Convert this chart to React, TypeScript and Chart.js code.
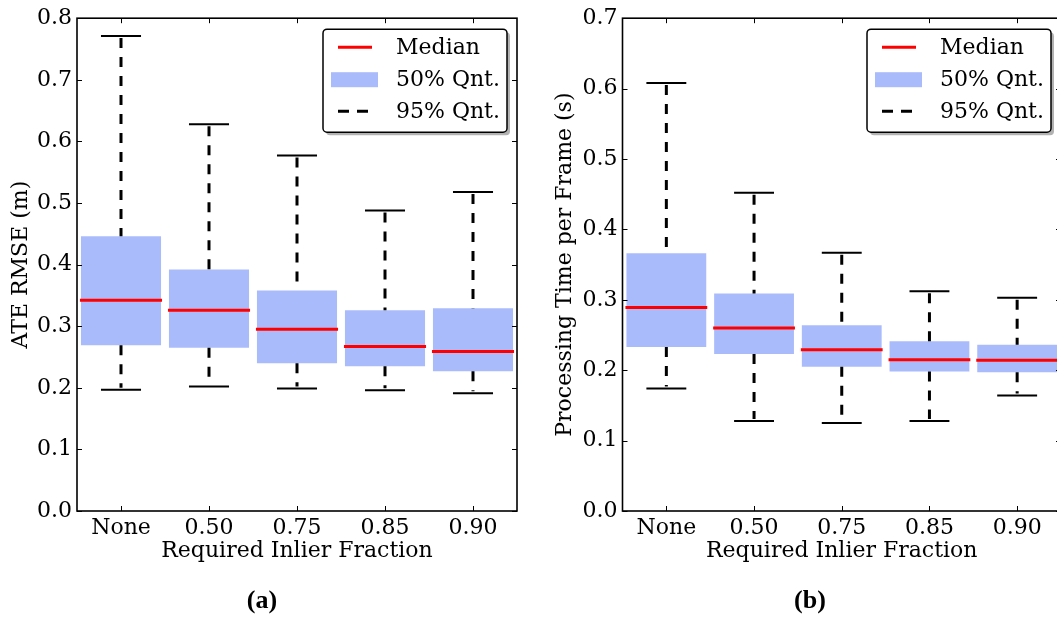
import { useEffect, useRef } from 'react';
import { Chart, registerables } from 'chart.js';

Chart.register(...registerables);

// Category labels (required inlier fraction)
const categories = ['None', '0.50', '0.75', '0.85', '0.90'];

// (a) ATE RMSE in metres: 95% range, 50% range and median
const ateLow = [0.197, 0.202, 0.199, 0.196, 0.191];
const ateQ1 = [0.269, 0.265, 0.24, 0.235, 0.227];
const ateMedian = [0.342, 0.326, 0.295, 0.267, 0.259];
const ateQ3 = [0.446, 0.392, 0.358, 0.326, 0.329];
const ateHigh = [0.771, 0.628, 0.577, 0.488, 0.518];

// (b) Processing time per frame in seconds
const timeLow = [0.174, 0.128, 0.125, 0.128, 0.164];
const timeQ1 = [0.233, 0.223, 0.205, 0.198, 0.197];
const timeMedian = [0.289, 0.26, 0.229, 0.215, 0.214];
const timeQ3 = [0.366, 0.309, 0.264, 0.241, 0.236];
const timeHigh = [0.608, 0.452, 0.367, 0.312, 0.303];

const legendLabels = ['Median', '50% Qnt.', '95% Qnt.'];

const FONT_FAMILY = '"DejaVu Serif", serif';
const FONT_SIZE = 22;
const BOX_COLOR = 'rgb(170, 187, 252)';
const MEDIAN_COLOR = '#ff0000';

type PanelSpec = {
  yTitle: string;
  yMax: number;
  low: number[];
  q1: number[];
  median: number[];
  q3: number[];
  high: number[];
  padLeft: number;
  axisWidth: number;
  padRight: number;
};

function roundRect(ctx: CanvasRenderingContext2D, x: number, y: number, w: number, h: number, r: number) {
  ctx.beginPath();
  ctx.moveTo(x + r, y);
  ctx.lineTo(x + w - r, y);
  ctx.arcTo(x + w, y, x + w, y + r, r);
  ctx.lineTo(x + w, y + h - r);
  ctx.arcTo(x + w, y + h, x + w - r, y + h, r);
  ctx.lineTo(x + r, y + h);
  ctx.arcTo(x, y + h, x, y + h - r, r);
  ctx.lineTo(x, y + r);
  ctx.arcTo(x, y, x + r, y, r);
  ctx.closePath();
}

function boxPlotPlugin(spec: PanelSpec) {
  return {
    id: 'boxPlotExtras',
    afterDatasetsDraw(chart: any) {
      const { ctx, chartArea, scales } = chart;
      const xs = scales.x;
      const ys = scales.y;
      const step = xs.getPixelForValue(1) - xs.getPixelForValue(0);
      const boxHalf = (step * 0.91) / 2;
      const capHalf = boxHalf / 2;
      ctx.save();
      ctx.lineCap = 'butt';
      categories.forEach((_, i) => {
        const cx = xs.getPixelForValue(i);
        // dashed whiskers
        ctx.strokeStyle = '#000';
        ctx.lineWidth = 3;
        ctx.setLineDash([10, 9]);
        ctx.beginPath();
        ctx.moveTo(cx, ys.getPixelForValue(spec.high[i]) + 2);
        ctx.lineTo(cx, ys.getPixelForValue(spec.q3[i]));
        ctx.stroke();
        ctx.beginPath();
        ctx.moveTo(cx, ys.getPixelForValue(spec.q1[i]));
        ctx.lineTo(cx, ys.getPixelForValue(spec.low[i]) - 2);
        ctx.stroke();
        ctx.setLineDash([]);
        // caps
        ctx.lineWidth = 2;
        ctx.beginPath();
        const yh = ys.getPixelForValue(spec.high[i]);
        ctx.moveTo(cx - capHalf, yh);
        ctx.lineTo(cx + capHalf, yh);
        const yl = ys.getPixelForValue(spec.low[i]);
        ctx.moveTo(cx - capHalf, yl);
        ctx.lineTo(cx + capHalf, yl);
        ctx.stroke();
        // median
        ctx.strokeStyle = MEDIAN_COLOR;
        ctx.lineWidth = 3;
        ctx.beginPath();
        const ym = ys.getPixelForValue(spec.median[i]);
        ctx.moveTo(cx - boxHalf - 1, ym);
        ctx.lineTo(cx + boxHalf + 1, ym);
        ctx.stroke();
      });

      // frame
      ctx.strokeStyle = '#000';
      ctx.lineWidth = 1.6;
      ctx.strokeRect(chartArea.left, chartArea.top, chartArea.right - chartArea.left, chartArea.bottom - chartArea.top);

      // inward tick marks on all four sides
      ctx.lineWidth = 1;
      ctx.beginPath();
      ys.ticks.forEach((t: any) => {
        const y = Math.round(ys.getPixelForValue(t.value)) + 0.5;
        ctx.moveTo(chartArea.left, y);
        ctx.lineTo(chartArea.left + 5, y);
        ctx.moveTo(chartArea.right, y);
        ctx.lineTo(chartArea.right - 5, y);
      });
      categories.forEach((_, i) => {
        const x = Math.round(xs.getPixelForValue(i)) + 0.5;
        ctx.moveTo(x, chartArea.bottom);
        ctx.lineTo(x, chartArea.bottom - 5);
        ctx.moveTo(x, chartArea.top);
        ctx.lineTo(x, chartArea.top + 5);
      });
      ctx.stroke();

      // legend box in the upper right corner
      const w = 184;
      const h = 103;
      const L = chartArea.right - 10 - w;
      const T = chartArea.top + 11;
      ctx.fillStyle = 'rgba(0,0,0,0.3)';
      roundRect(ctx, L + 3, T + 3, w, h, 4);
      ctx.fill();
      ctx.fillStyle = '#fff';
      roundRect(ctx, L, T, w, h, 4);
      ctx.fill();
      ctx.strokeStyle = '#000';
      ctx.lineWidth = 1.5;
      ctx.stroke();

      const rows = [T + 18, T + 50, T + 82];
      ctx.strokeStyle = MEDIAN_COLOR;
      ctx.lineWidth = 3;
      ctx.beginPath();
      ctx.moveTo(L + 15, rows[0]);
      ctx.lineTo(L + 49, rows[0]);
      ctx.stroke();
      ctx.fillStyle = BOX_COLOR;
      ctx.fillRect(L + 8, rows[1] - 7, 47, 15);
      ctx.strokeStyle = '#000';
      ctx.beginPath();
      ctx.moveTo(L + 15, rows[2]);
      ctx.lineTo(L + 26, rows[2]);
      ctx.moveTo(L + 34, rows[2]);
      ctx.lineTo(L + 45, rows[2]);
      ctx.stroke();

      ctx.fillStyle = '#000';
      ctx.font = `${FONT_SIZE}px ${FONT_FAMILY}`;
      ctx.textAlign = 'left';
      ctx.textBaseline = 'middle';
      legendLabels.forEach((txt, k) => ctx.fillText(txt, L + 73, rows[k] + 1));
      ctx.restore();
    },
  };
}

function makeChart(canvas: HTMLCanvasElement, spec: PanelSpec) {
  const font = { family: FONT_FAMILY, size: FONT_SIZE };
  return new Chart(canvas, {
    type: 'bar',
    data: {
      labels: categories,
      datasets: [
        {
          data: spec.q1.map((v, i) => [v, spec.q3[i]]) as any,
          backgroundColor: BOX_COLOR,
          borderWidth: 0,
          barPercentage: 0.91,
          categoryPercentage: 1,
        },
      ],
    },
    options: {
      animation: false,
      responsive: false,
      layout: { padding: { left: spec.padLeft, right: spec.padRight, top: 14, bottom: 55 } },
      plugins: { legend: { display: false }, tooltip: { enabled: false } },
      scales: {
        x: {
          offset: true,
          grid: { display: false, drawTicks: false },
          border: { display: false },
          ticks: { color: '#000', font, padding: 4, maxRotation: 0, autoSkip: false },
          title: { display: true, text: 'Required Inlier Fraction', color: '#000', font, padding: 0 },
          afterFit: (s: any) => {
            s.height = 53;
          },
        },
        y: {
          min: 0,
          max: spec.yMax,
          grid: { display: false, drawTicks: false },
          border: { display: false },
          ticks: {
            stepSize: 0.1,
            color: '#000',
            font,
            padding: 5,
            callback: (v: any) => Number(v).toFixed(1),
          },
          title: { display: true, text: spec.yTitle, color: '#000', font, padding: 0 },
          afterFit: (s: any) => {
            s.width = spec.axisWidth;
          },
        },
      },
    },
    plugins: [boxPlotPlugin(spec)],
  } as any);
}

const ateSpec: PanelSpec = {
  yTitle: 'ATE RMSE (m)',
  yMax: 0.8,
  low: ateLow,
  q1: ateQ1,
  median: ateMedian,
  q3: ateQ3,
  high: ateHigh,
  padLeft: 8,
  axisWidth: 69,
  padRight: 13,
};

const timeSpec: PanelSpec = {
  yTitle: 'Processing Time per Frame (s)',
  yMax: 0.7,
  low: timeLow,
  q1: timeQ1,
  median: timeMedian,
  q3: timeQ3,
  high: timeHigh,
  padLeft: 22,
  axisWidth: 70.5,
  padRight: 9,
};

export default function App() {
  const refA = useRef<HTMLCanvasElement>(null);
  const refB = useRef<HTMLCanvasElement>(null);

  useEffect(() => {
    const a = makeChart(refA.current!, ateSpec);
    const b = makeChart(refB.current!, timeSpec);
    return () => {
      a.destroy();
      b.destroy();
    };
  }, []);

  const caption: React.CSSProperties = {
    position: 'absolute',
    top: 585,
    width: 80,
    textAlign: 'center',
    font: 'bold 26px "Liberation Serif", serif',
    color: '#000',
  };

  return (
    <div
      style={{
        position: 'fixed',
        left: 0,
        top: 0,
        width: 1057,
        height: 619,
        overflow: 'hidden',
        background: '#fff',
      }}
    >
      <canvas
        ref={refA}
        width={530}
        height={619}
        style={{ position: 'absolute', left: 0, top: 0, width: 530, height: 619 }}
      />
      <canvas
        ref={refB}
        width={540}
        height={619}
        style={{ position: 'absolute', left: 530, top: 0, width: 540, height: 619 }}
      />
      <div style={{ ...caption, left: 222 }}>(a)</div>
      <div style={{ ...caption, left: 770 }}>(b)</div>
    </div>
  );
}
